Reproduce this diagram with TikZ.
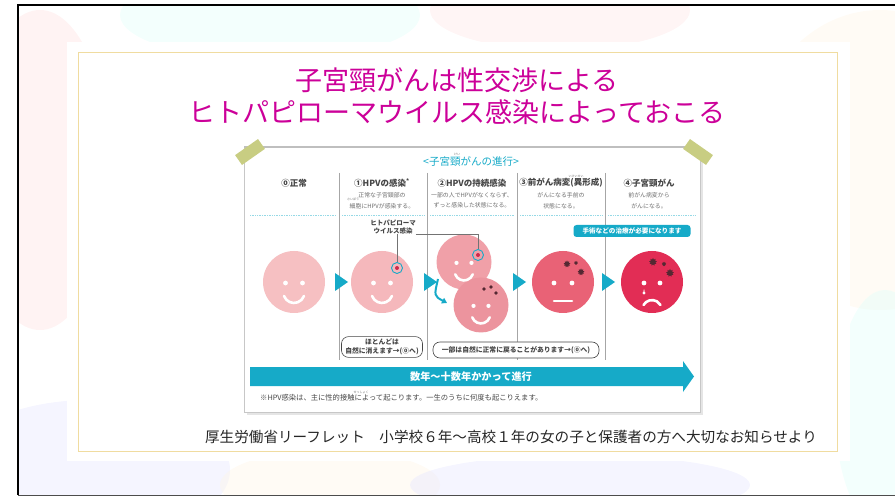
\documentclass[tikz,border=0pt]{standalone}
\usepackage{fontspec}
\setmainfont{Noto Sans CJK JP}
\usetikzlibrary{arrows.meta, positioning, calc, shapes.geometric}

\begin{document}
\begin{tikzpicture}[x=1pt, y=-1pt, every node/.style={inner sep=0pt},
    face/.style={circle, minimum size=62pt},
    smallface/.style={circle, minimum size=55pt},
    stagehead/.style={font=\fontsize{8.5}{9}\selectfont\bfseries, text=headgray},
    stagetext/.style={font=\fontsize{5.9}{10.5}\selectfont, text=descgray, align=center},
    ruby/.style={font=\fontsize{3}{3}\selectfont, text=descgray},
    notebox/.style={draw=headgray, line width=0.6pt, rounded corners=7pt, fill=white,
        font=\fontsize{6.8}{8.5}\selectfont\bfseries, text=headgray, align=center,
        inner xsep=3pt, inner ysep=2.5pt},
    ring/.style={circle, draw=hpvcyan, line width=0.9pt, minimum size=11pt},
    germ/.style={star, star points=9, star point ratio=1.6, fill=germcolor, minimum size=#1},
    germ/.default=6pt,
    blob/.style={opacity=0.4}]
    % Define consistent colors
    \definecolor{titlecolor}{RGB}{204,0,153}
    \definecolor{hpvcyan}{RGB}{22,170,200}
    \definecolor{headgray}{RGB}{70,70,70}
    \definecolor{descgray}{RGB}{110,110,110}
    \definecolor{tapegreen}{RGB}{200,205,130}
    \definecolor{goldline}{RGB}{240,220,160}
    \definecolor{germcolor}{RGB}{85,40,50}
    \definecolor{virusred}{RGB}{205,40,75}
    \definecolor{faceA}{RGB}{246,192,194}
    \definecolor{faceB}{RGB}{245,184,188}
    \definecolor{faceC}{RGB}{240,160,168}
    \definecolor{faceD}{RGB}{236,148,158}
    \definecolor{faceE}{RGB}{233,98,118}
    \definecolor{faceF}{RGB}{226,45,85}

    \useasboundingbox (0,0) rectangle (895,497);

    % Watercolour background
    \begin{scope}
        \clip (18,5) rectangle (895,495);
        \fill[blob, red!12] (40,170) ellipse (70 and 160);
        \fill[blob, green!20!cyan!12] (270,15) ellipse (150 and 45);
        \fill[blob, red!10] (560,10) ellipse (130 and 40);
        \fill[blob, yellow!18!orange!8] (880,160) ellipse (130 and 150);
        \fill[blob, blue!10] (90,470) ellipse (140 and 70);
        \fill[blob, yellow!15!orange!8] (330,485) ellipse (110 and 35);
        \fill[blob, blue!10] (580,485) ellipse (170 and 30);
        \fill[blob, green!20!cyan!12] (885,410) ellipse (50 and 120);
    \end{scope}
    \draw[black, line width=1.6pt] (895,5) -- (18,5) -- (18,495);
    \draw[black!70, line width=1pt] (18,495) -- (895,495);

    % White panel and gold frame
    \fill[white] (67,42) rectangle (850,461);
    \draw[goldline, line width=0.8pt] (78,52) rectangle (837,451);

    % Title
    \node[font=\fontsize{27}{32}\selectfont, text=titlecolor, align=center] (title)
        at (457,96) {子宮頸がんは性交渉による\\ヒトパピローマウイルス感染によっておこる};

    % Leaflet card
    \fill[black!10] (247,150) rectangle (703,415);
    \draw[black!22, fill=white, line width=0.8pt] (244,147) rectangle (700,412);
    \draw[black!25, line width=1.5pt] (244,147) -- (700,147);
    \fill[tapegreen, rotate around={35:(250,152)}] (236,146) rectangle (264,158);
    \fill[tapegreen, rotate around={-35:(698,152)}] (684,146) rectangle (712,158);

    \node[font=\fontsize{10.5}{11}\selectfont, text=hpvcyan] (cardtitle) at (471,162)
        {<子宮頸がんの進行>};
    \node[ruby] at (457,154.5) {けい};

    % Column dividers
    \foreach \x in {339,427,517,605}
        \draw[black!35, line width=0.7pt] (\x,173) -- (\x,360);

    % Stage headings and notes
    \node[stagehead] (s0) at (294,183) {⓪正常};
    \node[stagehead] (s1) at (382,183) {①HPVの感染\textsuperscript{*}};
    \node[stagehead] (s2) at (472,183) {②HPVの持続感染};
    \node[stagehead] (s3) at (561,183) {③前がん病変(異形成)};
    \node[stagehead] (s4) at (649,183) {④子宮頸がん};
    \node[stagetext, below=5pt of s1] (d1) {正常な子宮頸部の\\細胞にHPVが感染する。};
    \node[stagetext, below=5pt of s2] (d2) {一部の人でHPVがなくならず、\\ずっと感染した状態になる。};
    \node[stagetext, below=5pt of s3] (d3) {がんになる手前の\\状態になる。};
    \node[stagetext, below=5pt of s4] (d4) {前がん病変から\\がんになる。};
    \node[ruby] at (353,199.5) {さいぼう};
    \node[ruby] at (576,176.5) {いけいせい};

    % Dotted rules under the headings
    \foreach \a/\b in {250/336,342/424,430/514,520/602,608/695}
        \draw[hpvcyan!45, densely dotted, line width=0.7pt] (\a,215) -- (\b,215);

    % Faces
    \node[face, fill=faceA] (f0) at (294,282) {};
    \node[face, fill=faceB] (f1) at (382,282) {};
    \node[smallface, fill=faceC] (f2a) at (464,262) {};
    \node[smallface, fill=faceD] (f2b) at (481,305) {};
    \node[face, fill=faceE] (f3) at (563,282) {};
    \node[face, fill=faceF] (f4) at (652,282) {};

    \foreach \f/\s in {f0/1, f1/1, f2a/0.88, f2b/0.88} {
        \begin{scope}[shift={(\f.center)}, scale=\s]
            \fill[white] (-8.5,1) circle (2.4) (8.5,1) circle (2.4);
            \draw[white, line width=2.6pt, line cap=round]
                (-9.96,14) arc[start angle=160, end angle=20, radius=10.6];
        \end{scope}
    }
    \begin{scope}[shift={(f3.center)}]
        \fill[white] (-9,1) circle (2.4) (9,1) circle (2.4);
        \draw[white, line width=2.6pt, line cap=round] (-9,19) -- (9,19);
    \end{scope}
    \begin{scope}[shift={(f4.center)}]
        \fill[white] (-8,1) circle (2.4) (8,1) circle (2.4);
        \fill[white] (-8,7) .. controls (-10,11) and (-6,11) .. (-8,7);
        \fill[white] (-8,11) circle (1.6);
        \draw[white, line width=2.6pt, line cap=round]
            (-8.5,23) arc[start angle=210, end angle=330, radius=9.8];
    \end{scope}

    % Virus marks and spots
    \node[ring] (v1) at (397,268) {};
    \fill[virusred] (v1) circle (2);
    \node[ring] (v2) at (478,255) {};
    \fill[virusred] (v2) circle (2);
    \fill[germcolor] (484,289) circle (1.8) (491,287) circle (1.8) (496,293) circle (1.8);
    \node[germ=7pt] at (567,264) {};
    \node[germ=4pt] at (576,263) {};
    \node[germ=7pt] at (581,272) {};
    \node[germ=8pt] at (653,262) {};
    \node[germ=4.5pt] at (664,264) {};
    \node[germ=8pt] at (670,273) {};

    % Virus label and leader lines
    \node[font=\fontsize{6.5}{8}\selectfont\bfseries, text=headgray, align=center] (hpvlabel)
        at (393,227) {ヒトパピローマ\\ウイルス感染};
    \draw[black!55, line width=0.6pt] (hpvlabel.south -| v1) -- (v1.north);
    \draw[black!55, line width=0.6pt] (hpvlabel.south east) -- (hpvlabel.south east -| v2)
        -- (v2.north);

    % Progress triangles
    \foreach \x in {335,424,513,602}
        \fill[hpvcyan] (\x,273) -- (\x+13,282) -- (\x,291) -- cycle;
    \draw[hpvcyan, line width=2pt, -{Triangle[length=5pt, width=6pt]}]
        (438,279) .. controls (434,296) .. (447,303);

    % Treatment pill
    \node[fill=hpvcyan, rounded corners=3pt, minimum width=117pt, minimum height=12pt,
        font=\fontsize{6.6}{7}\selectfont\bfseries, text=white] (pill) at (632,231)
        {手術などの治療が必要になります};

    % Recovery notes
    \node[notebox, minimum width=81pt] (back1) at (382,347) {ほとんどは\\自然に消えます→(⓪へ)};
    \node[notebox, minimum width=166pt, minimum height=16pt] (back2) at (516,350)
        {一部は自然に正常に戻ることがあります→(⓪へ)};

    % Time arrow
    \fill[hpvcyan] (250,367) -- (683,367) -- (683,361) -- (694,376.5) -- (683,392)
        -- (683,386) -- (250,386) -- cycle;
    \node[font=\fontsize{10.2}{11}\selectfont\bfseries, text=white] (years) at (471,376.5)
        {数年～十数年かかって進行};

    % Footnote
    \node[anchor=west, font=\fontsize{7.3}{8}\selectfont, text=headgray] (footnote) at (260,398)
        {※HPV感染は、主に性的接触によって起こります。一生のうちに何度も起こりえます。};
    \node[ruby] at (361,392) {せっしょく};

    % Source line
    \node[font=\fontsize{14.6}{16}\selectfont, text=black!85] (source) at (511,437)
        {厚生労働省リーフレット　小学校６年～高校１年の女の子と保護者の方へ大切なお知らせより};
\end{tikzpicture}
\end{document}
